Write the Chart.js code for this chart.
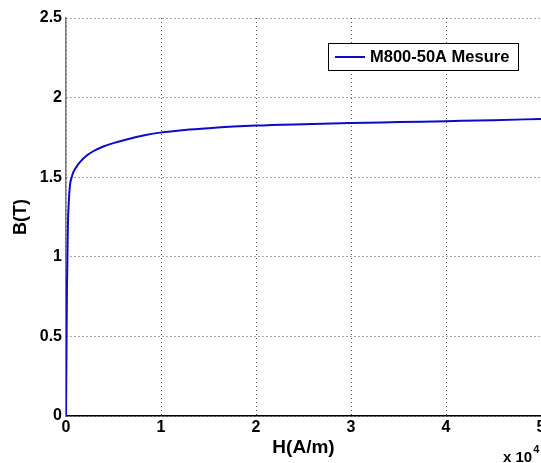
<!DOCTYPE html>
<html>
<head>
<meta charset="utf-8">
<script src="https://cdn.jsdelivr.net/npm/chart.js@4/dist/chart.umd.min.js"></script>
<style>
html,body{margin:0;padding:0;background:#fff;}
#wrap{width:541px;height:463px;position:relative;}
</style>
</head>
<body>
<div id="wrap"><canvas id="c" width="541" height="463"></canvas></div>
<script>
// H in A/m, B in T
const seriesLabel = 'M800-50A Mesure';
const H = [0, 50, 100, 140, 200, 300, 420, 600, 800, 1100, 1470, 2180, 2870, 3930, 4980, 6380, 8140, 9900, 12500, 15000, 20000, 25000, 30000, 35000, 40000, 45000, 50000];
const B = [0, 0.40, 0.80, 0.95, 1.20, 1.35, 1.45, 1.50, 1.535, 1.565, 1.595, 1.636, 1.663, 1.693, 1.714, 1.737, 1.762, 1.78, 1.797, 1.808, 1.824, 1.833, 1.84, 1.846, 1.852, 1.858, 1.866];
const xTicks = [0, 10000, 20000, 30000, 40000, 50000];
const yTicks = [0, 0.5, 1, 1.5, 2, 2.5];
const xTitle = 'H(A/m)';
const yTitle = 'B(T)';
const xExponentBase = 'x 10';
const xExponent = '4';

const FONT = '"Liberation Sans", Arial, Helvetica, sans-serif';
const points = H.map((h, i) => ({x: h, y: B[i]}));

const extras = {
  id: 'extras',
  afterDraw(chart) {
    const ctx = chart.ctx;
    ctx.save();
    // legend box
    const bx = 328, by = 43, bw = 190, bh = 27;
    ctx.fillStyle = '#fff';
    ctx.fillRect(bx, by, bw, bh);
    ctx.strokeStyle = '#000';
    ctx.lineWidth = 1;
    ctx.strokeRect(bx + 0.5, by + 0.5, bw, bh);
    const ds = chart.data.datasets[0];
    ctx.strokeStyle = ds.borderColor;
    ctx.lineWidth = 2;
    ctx.beginPath();
    ctx.moveTo(bx + 7, by + 14);
    ctx.lineTo(bx + 37, by + 14);
    ctx.stroke();
    ctx.fillStyle = '#000';
    ctx.font = 'bold 16.5px ' + FONT;
    ctx.textBaseline = 'middle';
    ctx.textAlign = 'left';
    ctx.fillText(ds.label, bx + 42, by + 14.5);
    // exponent
    ctx.textBaseline = 'alphabetic';
    ctx.font = 'bold 15px ' + FONT;
    ctx.fillText(xExponentBase, 503, 462);
    const w = ctx.measureText(xExponentBase).width;
    ctx.font = 'bold 11px ' + FONT;
    ctx.fillText(xExponent, 503 + w + 1, 453);
    ctx.restore();
  }
};

new Chart(document.getElementById('c'), {
  type: 'line',
  data: {
    datasets: [{
      label: seriesLabel,
      data: points,
      borderColor: '#0b0bc8',
      borderWidth: 2,
      pointRadius: 0,
      fill: false,
      cubicInterpolationMode: 'monotone'
    }]
  },
  options: {
    responsive: false,
    animation: false,
    devicePixelRatio: 1,
    layout: {padding: {left: 0, right: 0, top: 18, bottom: 0}},
    plugins: {legend: {display: false}, tooltip: {enabled: false}},
    scales: {
      x: {
        type: 'linear',
        min: 0, max: 50000,
        afterBuildTicks: s => { s.ticks = xTicks.map(v => ({value: v})); },
        afterFit: s => { s.height = 47; s.paddingRight = 0; s.paddingLeft = 0; },
        ticks: {
          callback: v => String(v / 10000),
          color: '#000',
          font: {family: FONT, size: 16, weight: 'bold'},
          padding: 2,
          maxRotation: 0,
          autoSkip: false
        },
        grid: {color: '#555', lineWidth: 1, drawTicks: false},
        border: {display: true, color: '#000', width: 1.5, dash: [1, 3]},
        title: {
          display: true, text: xTitle, color: '#000',
          font: {family: FONT, size: 19, weight: 'bold'},
          padding: {top: 0, bottom: 4}
        }
      },
      y: {
        type: 'linear',
        min: 0, max: 2.5,
        afterBuildTicks: s => { s.ticks = yTicks.map(v => ({value: v})); },
        afterFit: s => { s.width = 66; },
        ticks: {
          callback: v => String(v),
          color: '#000',
          font: {family: FONT, size: 16, weight: 'bold'},
          padding: 4,
          autoSkip: false
        },
        grid: {color: '#555', lineWidth: 1, drawTicks: false},
        border: {display: true, color: '#777', width: 1.5, dash: [1, 3]},
        title: {
          display: true, text: yTitle, color: '#000',
          font: {family: FONT, size: 18, weight: 'bold'},
          padding: {top: 10, bottom: 0}
        }
      }
    }
  },
  plugins: [extras]
});
</script>
</body>
</html>
